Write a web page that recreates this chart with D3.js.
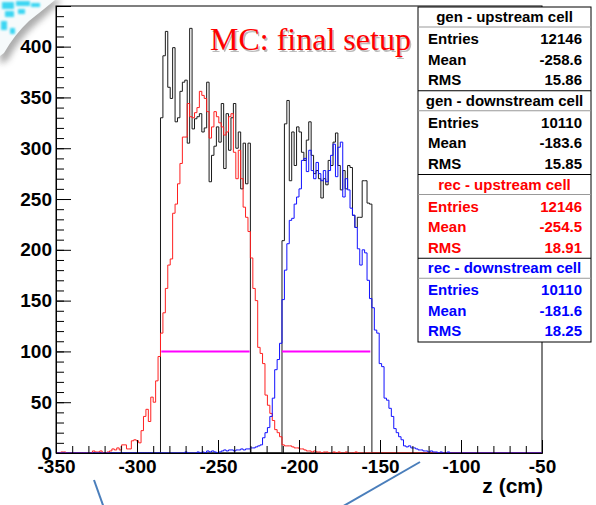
<!DOCTYPE html>
<html><head><meta charset="utf-8">
<script src="https://cdn.jsdelivr.net/npm/d3@7"></script>
<style>
html,body{margin:0;padding:0;background:#fff;}
svg{display:block;}
</style></head><body>
<svg id="chart" width="596" height="505"></svg>
<script>
// ---------------- data ----------------
const binWidth = 1.5;
const xDomain = [-350, -50];
const yDomain = [0, 440];
const xTickValues = [-350, -300, -250, -200, -150, -100, -50];
const yTickValues = [0, 50, 100, 150, 200, 250, 300, 350, 400];
const xTitle = "z (cm)";
const plotTitle = "MC: final setup";

// generated (black), upstream cell
const genUpStart = -285.5;
const genUp = [330,391,415,360,349,399,326,330,356,365,367,305,418,319,329,331,334,316,320,365,267,293,302,321,306,344,280,334,298,330,344,300,316,260,305,265,305];
// generated (black), downstream cell
const genDownStart = -210.5;
const genDown = [209,324,347,268,316,283,321,316,296,288,308,326,293,275,278,270,251,270,264,288,283,306,315,283,259,278,260,283,281,234,222,232,232,268,268,246,245];
// reconstructed (red), upstream cell
const recUpStart = -350;
const recUp = [0,0,1,1,0,0,0,0,0,0,0,0,0,0,0,2,1,1,2,0,0,1,2,4,3,5,3,8,8,4,4,12,
  13,12,10,22,36,43,31,55,50,71,95,118,138,162,185,191,236,
  245,265,285,311,311,344,331,330,335,340,356,352,349,336,310,321,336,331,325,321,313,316,331,334,296,270,298,270,242,
  232,218,192,162,150,104,98,88,57,47,39,32,23,20,16,
  8,7,7,7,6,5,5,4,4,3,2,2,1,2,1,1,0,1,1,0,0,1,0,1,0,0,1,0,0,0,1,0,0];
// reconstructed (blue), downstream cell
const recDownStart = -350;
const recDown = [0,0,0,0,0,0,0,0,0,0,0,0,0,0,0,0,0,0,0,0,0,0,0,0,0,0,0,0,0,0,
  0,0,0,0,0,0,0,0,0,0,0,0,0,0,0,0,0,0,0,0,0,0,0,1,0,0,0,0,1,0,
  1,0,2,1,2,1,0,1,2,3,2,3,3,2,3,3,4,3,4,4,5,5,6,7,8,
  15,20,25,36,54,82,92,108,151,180,206,229,231,245,
  252,260,288,290,277,298,278,270,286,275,268,278,267,278,293,304,272,301,306,252,270,259,241,234,
  222,201,185,200,197,170,152,143,121,118,88,85,54,52,44,36,24,20,16,13,7,6,7,5,
  5,4,3,3,2,2,1,2,1,1,0,1,0,0,1,0,0,0];
// cell extents (magenta markers)
const cellUp = [-285, -230.5];
const cellDown = [-210.5, -156];
const cellLevel = 100;

// statistics boxes
const statTitles = ["gen - upstream cell", "gen - downstream cell", "rec - upstream cell", "rec - downstream cell"];
const statEntries = ["12146", "10110", "12146", "10110"];
const statMeans = ["-258.6", "-183.6", "-254.5", "-181.6"];
const statRMS = ["15.86", "15.85", "18.91", "18.25"];
const statColors = ["#000000", "#000000", "#ff0000", "#0000ff"];

// ---------------- layout ----------------
const svg = d3.select("#chart");
const L = 56, R = 542, T = 6, B = 453;
const x = d3.scaleLinear().domain(xDomain).range([L, R]);
const y = d3.scaleLinear().domain(yDomain).range([B, T]);
const FONT = "'Liberation Sans', Arial, Helvetica, sans-serif";
const fmt = d => String(d);

// top-left decoration (slide corner)
const defs = svg.append("defs");
const blur = defs.append("filter").attr("id", "blur").attr("x", "-50%").attr("y", "-50%").attr("width", "200%").attr("height", "200%");
blur.append("feGaussianBlur").attr("stdDeviation", 3);
const blur2 = defs.append("filter").attr("id", "blur2").attr("x", "-50%").attr("y", "-50%").attr("width", "200%").attr("height", "200%");
blur2.append("feGaussianBlur").attr("stdDeviation", 1.2);
defs.append("clipPath").attr("id", "plotclip").append("rect")
  .attr("x", L).attr("y", T).attr("width", R - L).attr("height", B - T + 1);
svg.append("path").attr("d", "M0,0 L62,0 Q50,12 34,26 Q18,40 8,60 L0,64 Z")
  .attr("fill", "#8a8a8a").attr("filter", "url(#blur)").attr("opacity", 0.7);
svg.append("path").attr("d", "M0,0 L55,0 Q43,10 29,21 Q15,34 4,53 L0,56 Z").attr("fill", "#f6fafb");
const cyanSpots = [[2,2,12,7],[16,1,14,5],[5,11,9,6],[31,3,9,4],[1,21,6,9],[18,9,7,5],[10,28,5,6]];
svg.selectAll("rect.spot").data(cyanSpots).join("rect").attr("class","spot")
  .attr("x", d => d[0]).attr("y", d => d[1]).attr("width", d => d[2]).attr("height", d => d[3])
  .attr("fill", "#1fd0f2").attr("opacity", 0.85).attr("filter", "url(#blur2)");

// frame
svg.append("rect").attr("x", L).attr("y", T).attr("width", R - L).attr("height", B - T)
  .attr("fill", "none").attr("stroke", "#000").attr("stroke-width", 1);

// ---------------- histograms ----------------
function stepPoints(start, counts) {
  const pts = [[xDomain[0], 0], [start, 0]];
  counts.forEach((c, i) => {
    const a = start + i * binWidth;
    pts.push([a, c], [a + binWidth, c]);
  });
  const end = start + counts.length * binWidth;
  pts.push([end, 0], [xDomain[1], 0]);
  return pts;
}
const line = d3.line().x(d => x(d[0])).y(d => y(d[1]));
const hg = svg.append("g").attr("clip-path", "url(#plotclip)");
const series = [
  {start: genUpStart, counts: genUp, color: "#1a1a1a"},
  {start: genDownStart, counts: genDown, color: "#1a1a1a"},
  {start: recUpStart, counts: recUp, color: "#ff2020"},
  {start: recDownStart, counts: recDown, color: "#1010ff"}
];
hg.selectAll("path.h").data(series).join("path").attr("class", "h")
  .attr("d", d => line(stepPoints(d.start, d.counts)))
  .attr("fill", "none").attr("stroke", d => d.color).attr("stroke-width", 1);

// magenta cell markers
hg.selectAll("line.cell").data([cellUp, cellDown]).join("line").attr("class", "cell")
  .attr("x1", d => x(d[0])).attr("x2", d => x(d[1]))
  .attr("y1", y(cellLevel)).attr("y2", y(cellLevel))
  .attr("stroke", "#ff00ff").attr("stroke-width", 2);

// ---------------- axes ----------------
const yMinor = d3.range(0, 441, 10);
const xMinor = d3.range(-350, -49, 10);
svg.append("g").attr("transform", `translate(${L},0)`)
  .call(d3.axisLeft(y).tickValues(yMinor).tickSize(-8).tickFormat(""))
  .call(g => g.select(".domain").remove());
svg.append("g").attr("transform", `translate(${L},0)`)
  .call(d3.axisLeft(y).tickValues(yTickValues).tickSize(-15).tickPadding(4).tickFormat(fmt))
  .call(g => g.select(".domain").attr("stroke", "#000"))
  .call(g => g.selectAll("text").attr("font-family", FONT).attr("font-weight", "bold")
    .attr("font-size", 19).attr("fill", "#000"));
svg.append("g").attr("transform", `translate(0,${B})`)
  .call(d3.axisBottom(x).tickValues(xMinor).tickSize(-7).tickFormat(""))
  .call(g => g.select(".domain").remove());
svg.append("g").attr("transform", `translate(0,${B})`)
  .call(d3.axisBottom(x).tickValues(xTickValues).tickSize(-13).tickPadding(7).tickFormat(fmt))
  .call(g => g.select(".domain").attr("stroke", "#000"))
  .call(g => g.selectAll("text").attr("font-family", FONT).attr("font-weight", "bold")
    .attr("font-size", 19).attr("fill", "#000"));

svg.append("text").attr("x", R + 1).attr("y", 493).attr("text-anchor", "end")
  .attr("font-family", FONT).attr("font-weight", "bold").attr("font-size", 21).text(xTitle);

// title
svg.append("text").attr("x", 211.5).attr("y", 51.5)
  .attr("font-family", "'Liberation Serif', 'Times New Roman', serif").attr("font-size", 32)
  .attr("fill", "#777").attr("opacity", 0.5).text(plotTitle);
svg.append("text").attr("x", 210).attr("y", 50)
  .attr("font-family", "'Liberation Serif', 'Times New Roman', serif").attr("font-size", 32)
  .attr("fill", "#ff0000").text(plotTitle);

// ---------------- stats box ----------------
const bx0 = 418, bx1 = 591, by0 = 7, blockH = 83.75;
const sb = svg.append("g");
sb.append("rect").attr("x", bx0).attr("y", by0).attr("width", bx1 - bx0).attr("height", blockH * 4)
  .attr("fill", "#fff").attr("stroke", "#000").attr("stroke-width", 1);
statTitles.forEach((t, i) => {
  const top = by0 + i * blockH;
  const col = statColors[i];
  if (i > 0) sb.append("line").attr("x1", bx0).attr("x2", bx1).attr("y1", top).attr("y2", top)
    .attr("stroke", "#000").attr("stroke-width", 1);
  sb.append("line").attr("x1", bx0).attr("x2", bx1).attr("y1", top + 20).attr("y2", top + 20)
    .attr("stroke", "#999").attr("stroke-width", 1);
  sb.append("text").attr("x", (bx0 + bx1) / 2).attr("y", top + 15).attr("text-anchor", "middle")
    .attr("font-family", FONT).attr("font-weight", "bold").attr("font-size", 15).attr("fill", col).text(t);
  const rows = [["Entries", statEntries[i]], ["Mean", statMeans[i]], ["RMS", statRMS[i]]];
  rows.forEach((r, j) => {
    const yy = top + 37 + j * 20.5;
    sb.append("text").attr("x", 428).attr("y", yy).attr("font-family", FONT).attr("font-weight", "bold")
      .attr("font-size", 15).attr("fill", col).text(r[0]);
    sb.append("text").attr("x", 582).attr("y", yy).attr("text-anchor", "end").attr("font-family", FONT)
      .attr("font-weight", "bold").attr("font-size", 15).attr("fill", col).text(r[1]);
  });
});

// slide annotation lines
const annot = [[[94, 480], [104, 508]], [[420, 462], [340, 508]]];
svg.selectAll("line.annot").data(annot).join("line").attr("class", "annot")
  .attr("x1", d => d[0][0]).attr("y1", d => d[0][1]).attr("x2", d => d[1][0]).attr("y2", d => d[1][1])
  .attr("stroke", "#4a7ebb").attr("stroke-width", 2);
</script>
</body></html>
